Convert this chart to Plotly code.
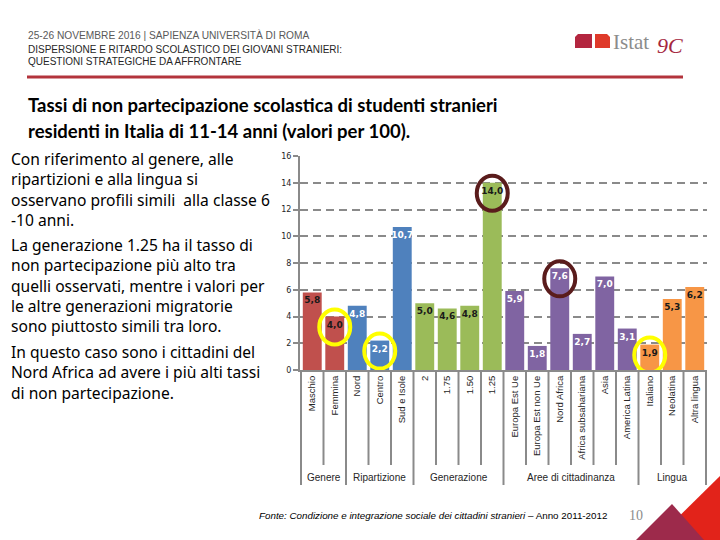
import plotly.graph_objects as go

# ---------------- data ----------------
categories = ["Maschio", "Femmina", "Nord", "Centro", "Sud e Isole",
              "2", "1.75", "1.50", "1.25",
              "Europa Est Ue", "Europa Est non Ue", "Nord Africa",
              "Africa subsahariana", "Asia", "America Latina",
              "Italiano", "Neolatina", "Altra lingua"]
values = [5.8, 4.0, 4.8, 2.2, 10.7,
          5.0, 4.6, 4.8, 14.0,
          5.9, 1.8, 7.6, 2.7, 7.0, 3.1,
          1.9, 5.3, 6.2]
groups = ["Genere", "Ripartizione", "Generazione", "Aree di cittadinanza", "Lingua"]
group_sizes = [2, 3, 4, 6, 3]
group_colors = ["#C0504D", "#4F81BD", "#9BBB59", "#8064A2", "#F79646"]
group_text_colors = ["#1a1a1a", "#ffffff", "#1a1a1a", "#ffffff", "#1a1a1a"]
yellow_circled = ["Femmina", "Centro", "Italiano"]
brown_circled = ["1.25", "Nord Africa"]
y_ticks = [0, 2, 4, 6, 8, 10, 12, 14, 16]

paragraphs = [
    ["Con riferimento al genere, alle", "ripartizioni e alla lingua si",
     "osservano profili simili  alla classe 6", "-10 anni."],
    ["La generazione 1.25 ha il tasso di", "non partecipazione più alto tra",
     "quelli osservati, mentre i valori per", "le altre generazioni migratorie",
     "sono piuttosto simili tra loro."],
    ["In questo caso sono i cittadini del", "Nord Africa ad avere i più alti tassi",
     "di non partecipazione."],
]

# ---------------- layout geometry ----------------
W, H = 720, 540
L, R, T, B = 300, 13, 156, 170
PW, PH = W - L - R, H - T - B


def px(x):
    return (x - L) / PW


def py(y):
    return (H - B - y) / PH


bar_colors, text_colors = [], []
for g, n in enumerate(group_sizes):
    bar_colors += [group_colors[g]] * n
    text_colors += [group_text_colors[g]] * n

labels = [f"{v:.1f}".replace(".", ",") for v in values]

fig = go.Figure()
fig.add_trace(go.Bar(
    x=categories, y=values, marker=dict(color=bar_colors, line=dict(width=0)),
    text=labels, textposition="inside", insidetextanchor="end",
    textangle=0, constraintext="none",
    textfont=dict(family="DejaVu Sans", size=9, color=text_colors, weight="bold"),
    hoverinfo="x+y", showlegend=False,
))

shapes = []
# separators below x axis
start = 0
bounds_long = {0}
for n in group_sizes:
    start += n
    bounds_long.add(start)
for i in range(len(categories) + 1):
    long_ = i in bounds_long
    shapes.append(dict(type="line", xref="x", yref="paper",
                       x0=i - 0.5, x1=i - 0.5, y0=0, y1=py(485 if long_ else 465),
                       line=dict(color="#8a8a8a", width=2), layer="below"))

# circles
for name, col in [(n, "#FFFF00") for n in yellow_circled] + [(n, "#5A1C1C") for n in brown_circled]:
    i = categories.index(name)
    shapes.append(dict(type="circle", xref="x", yref="y",
                       xsizemode="pixel", ysizemode="pixel",
                       xanchor=i, yanchor=values[i],
                       x0=-15.5, x1=15.5, y0=-28, y1=7,
                       line=dict(color=col, width=4)))

# header red line
shapes.append(dict(type="line", xref="paper", yref="paper",
                   x0=px(27), x1=px(683), y0=py(77), y1=py(77),
                   line=dict(color="#B3343C", width=3)))


def poly(pts):
    s = "M " + " L ".join(f"{px(a):.5f},{py(b):.5f}" for a, b in pts) + " Z"
    return s


# istat logo blocks
shapes.append(dict(type="path", xref="paper", yref="paper",
                   path=poly([(575, 48), (575, 37), (578, 34), (592, 34), (592, 48)]),
                   fillcolor="#B3263F", line=dict(width=0)))
shapes.append(dict(type="path", xref="paper", yref="paper",
                   path=poly([(595, 48), (595, 34), (607, 34), (610, 37), (610, 48)]),
                   fillcolor="#DF3A2A", line=dict(width=0)))
# bottom-right corner decoration
shapes.append(dict(type="path", xref="paper", yref="paper",
                   path=poly([(655, 540), (720, 476), (720, 540)]),
                   fillcolor="#E2231A", line=dict(width=0)))
shapes.append(dict(type="path", xref="paper", yref="paper",
                   path=poly([(636, 540), (672, 504), (704, 540)]),
                   fillcolor="#9D2A4B", line=dict(width=0)))

annotations = []
# group labels
pos = 0
for g, n in zip(groups, group_sizes):
    annotations.append(dict(text=g, xref="x", yref="paper", x=pos + (n - 1) / 2, y=py(478),
                            showarrow=False, xanchor="center", yanchor="middle",
                            font=dict(family="Liberation Sans", size=10, color="#262626")))
    pos += n


def txt(text, x, y, size, color="#000000", family="Lato", weight="normal", style="normal",
        xanchor="left", yanchor="middle", align="left"):
    annotations.append(dict(text=text, xref="paper", yref="paper", x=px(x), y=py(y),
                            showarrow=False, xanchor=xanchor, yanchor=yanchor, align=align,
                            font=dict(family=family, size=size, color=color,
                                      weight=weight, style=style)))


txt("25-26 NOVEMBRE 2016 | SAPIENZA UNIVERSITÀ DI ROMA", 26, 35, 10.2, "#595959", "Liberation Sans")
txt("DISPERSIONE E RITARDO SCOLASTICO DEI GIOVANI STRANIERI:", 26, 49, 10, "#262626", "Liberation Sans")
txt("QUESTIONI STRATEGICHE DA AFFRONTARE", 26, 61, 10, "#262626", "Liberation Sans")

txt("Istat", 611, 42, 21, "#8C8C8C", "Liberation Serif")
txt("9C", 655, 45, 22, "#A5263E", "Liberation Serif", style="italic")

txt("Tassi di non partecipazione scolastica di studenti stranieri", 26, 105, 18.5, "#000000", "Lato", "bold")
txt("residenti in Italia di 11-14 anni (valori per 100).", 26, 131, 18.5, "#000000", "Lato", "bold")

para_centers = [189.5, 285.5, 372]
for cy, lines in zip(para_centers, paragraphs):
    txt("<br>".join(lines), 9, cy, 15.6, family="Noto Sans")

txt("<i>Fonte: Condizione e integrazione sociale dei cittadini stranieri</i> – Anno 2011-2012",
    257, 515, 9.8, "#000000", "Liberation Sans")
txt("10", 627, 515, 14, "#8C8C8C", "Liberation Serif")

fig.update_layout(
    width=W, height=H, margin=dict(l=L, r=R, t=T, b=B, pad=0),
    paper_bgcolor="white", plot_bgcolor="white",
    bargap=0.16, shapes=shapes, annotations=annotations,
    xaxis=dict(type="category", tickangle=-90, showline=True, linecolor="#8a8a8a", linewidth=2,
               ticks="", showgrid=False,
               tickfont=dict(family="Liberation Sans", size=9.5, color="#262626")),
    yaxis=dict(range=[0, 16], tickvals=y_ticks, ticktext=[str(v) for v in y_ticks],
               showline=True, linecolor="#8a8a8a", linewidth=2,
               ticks="outside", ticklen=5, tickcolor="#8a8a8a", tickwidth=2,
               showgrid=True, gridcolor="#8a8a8a", gridwidth=1.5, griddash="8px,5px",
               zeroline=False,
               tickfont=dict(family="DejaVu Sans", size=8, color="#262626")),
)

fig.write_html("out.html", config={"displayModeBar": False},
               post_script="document.body.style.margin='0';document.body.style.padding='0';")
